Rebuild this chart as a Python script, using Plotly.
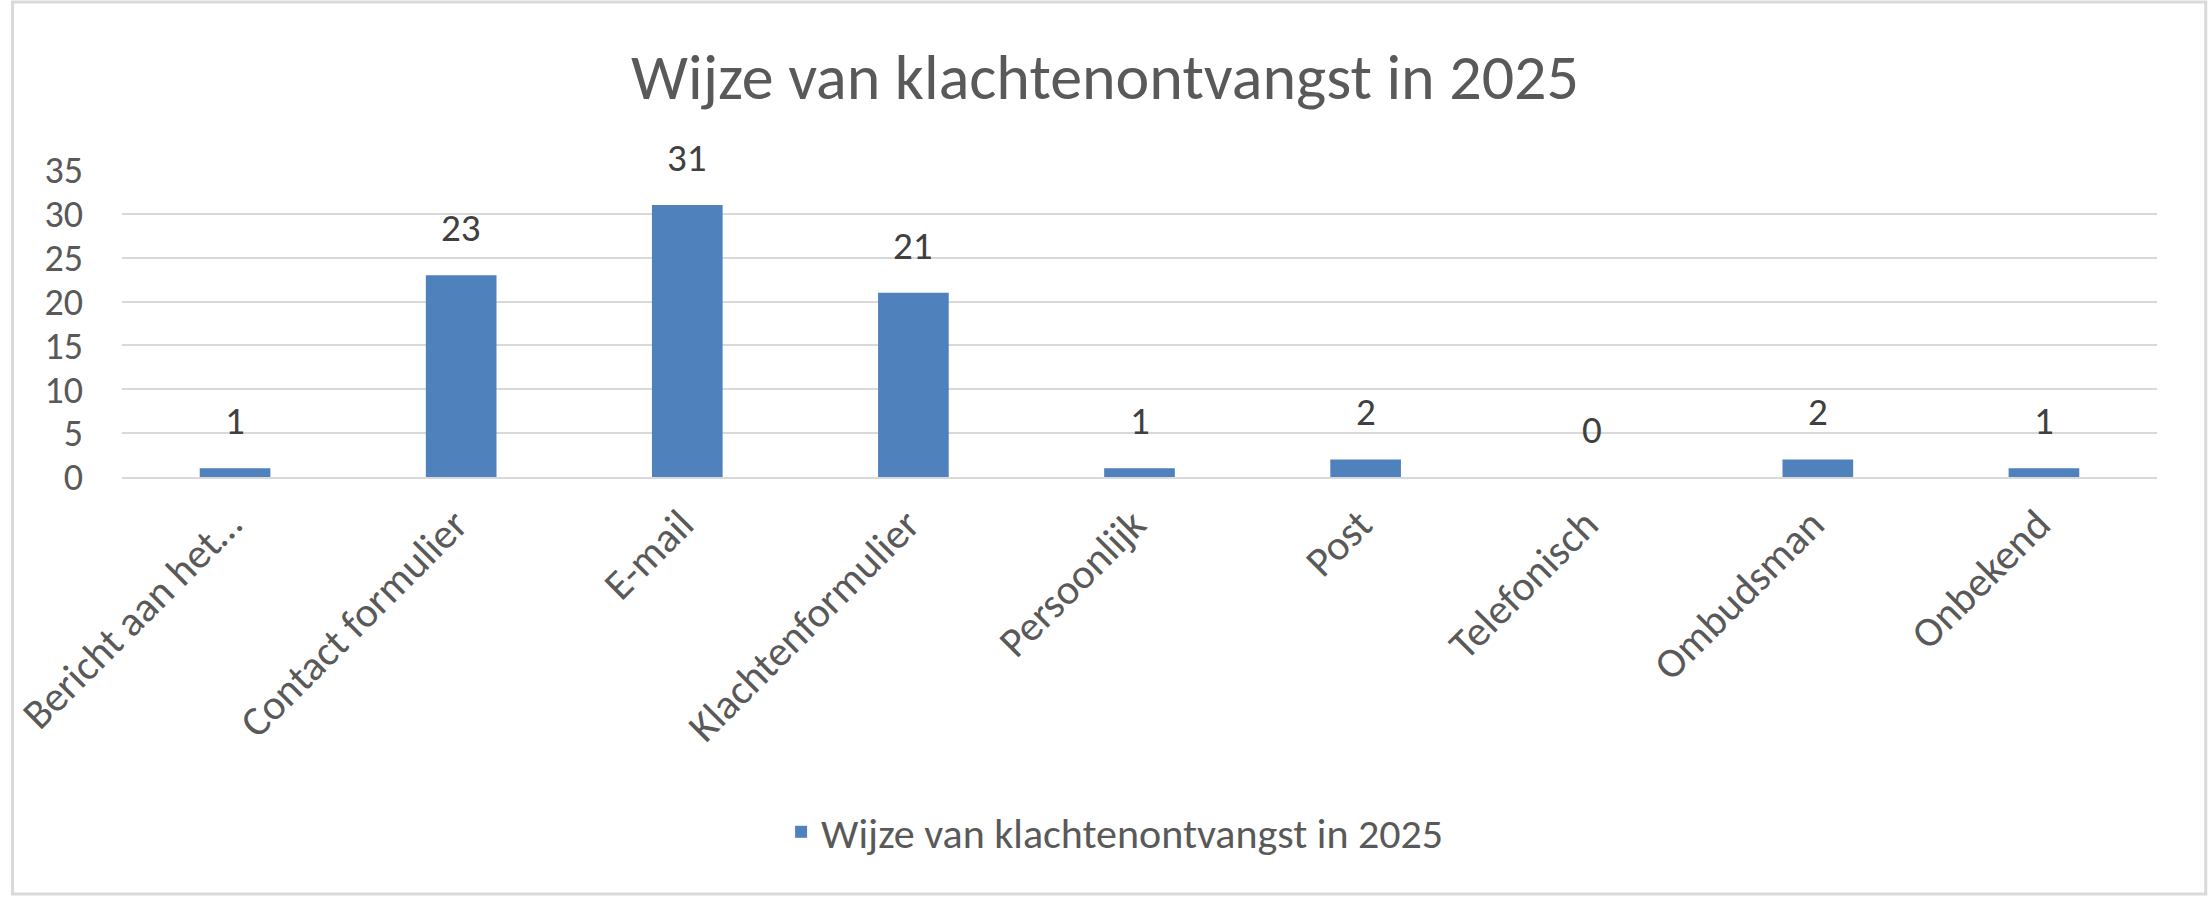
import plotly.graph_objects as go

# gegevens uit de grafiek
categories = ["Bericht aan het…", "Contact formulier", "E-mail", "Klachtenformulier",
              "Persoonlijk", "Post", "Telefonisch", "Ombudsman", "Onbekend"]
values = [1, 23, 31, 21, 1, 2, 0, 2, 1]
y_ticks = [0, 5, 10, 15, 20, 25, 30, 35]
series_name = "Wijze van klachtenontvangst in 2025"
title_text = "Wijze van klachtenontvangst in 2025"

font_family = "Carlito, Calibri, Lato, sans-serif"
grey_text = "#595959"
grid_grey = "#d9d9d9"
fs = 42

W, H = 2210, 897
ml, mr, mt, mb = 112, 53, 170, 420
pw, ph = W - ml - mr, H - mt - mb

fig = go.Figure()
fig.add_trace(go.Bar(
    x=categories,
    y=values,
    name=series_name,
    marker=dict(color="#4f81bd", line=dict(width=0)),
    showlegend=True,
))

# data labels boven de staven
for c, v in zip(categories, values):
    fig.add_annotation(x=c, y=v, text=str(v), showarrow=False,
                       yanchor="bottom", yshift=22,
                       font=dict(family=font_family, size=39, color="#404040"))

# lichtgrijze rand rond de hele grafiek
fig.add_shape(type="rect", xref="paper", yref="paper",
              x0=(2 - ml) / pw, x1=(W - 4 - ml) / pw,
              y0=(H - mb - (H - 3)) / ph, y1=(H - mb - 2) / ph,
              line=dict(color=grid_grey, width=3), fillcolor="rgba(0,0,0,0)", layer="below")

fig.update_layout(
    width=W, height=H,
    margin=dict(l=ml, r=mr, t=mt, b=mb, pad=0),
    paper_bgcolor="white", plot_bgcolor="white",
    font=dict(family=font_family, size=fs, color=grey_text),
    title=dict(text=title_text, x=0.5, xref="container", xanchor="center",
               y=1 - 77 / H, yref="container", yanchor="middle",
               font=dict(family=font_family, size=64, color=grey_text)),
    bargap=0.6875,
    showlegend=True,
    legend=dict(orientation="h", x=0.488, xanchor="center", y=(H - mb - 832) / ph, yanchor="middle",
                font=dict(family=font_family, size=fs, color=grey_text),
                bgcolor="rgba(0,0,0,0)"),
)
fig.update_xaxes(tickangle=-45, showgrid=False, showline=True, linecolor=grid_grey, linewidth=2,
                 ticks="", ticklabelstandoff=4, ticklabelshift=-6,
                 tickfont=dict(size=fs, color=grey_text))
fig.update_yaxes(range=[0, 35], tickvals=y_ticks, showgrid=True, gridcolor=grid_grey, gridwidth=2,
                 zeroline=False, showline=False, ticks="", ticklabelstandoff=38,
                 tickfont=dict(size=38, color=grey_text))

fig.write_html("out.html", config={"displayModeBar": False},
               post_script="document.body.style.margin='0';")
